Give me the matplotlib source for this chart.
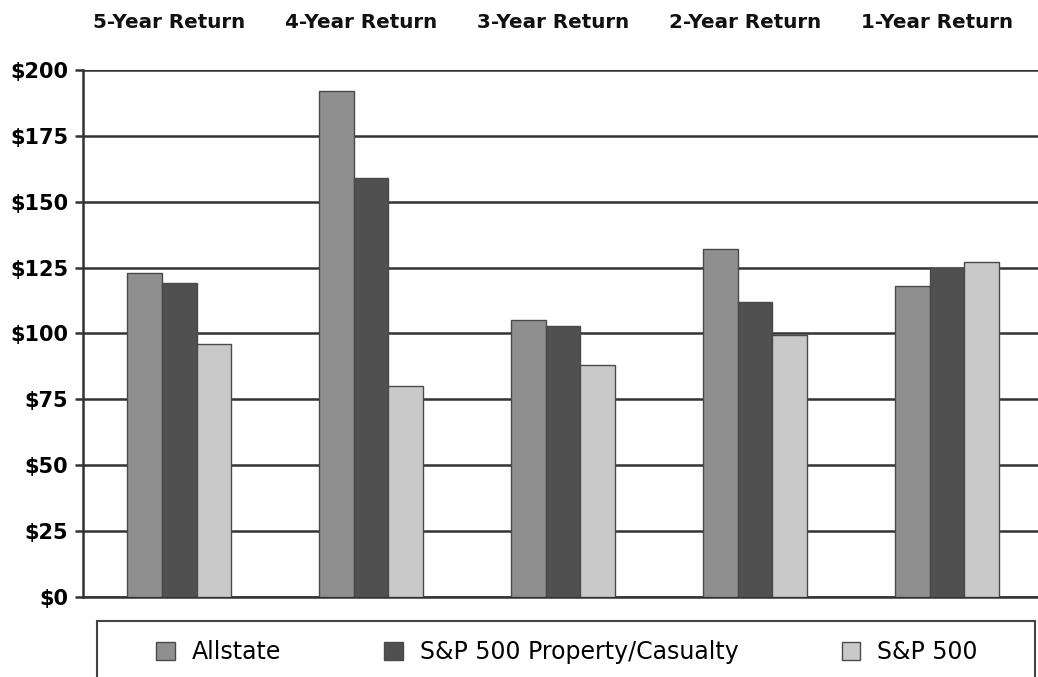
import matplotlib.pyplot as plt
import matplotlib.patches as mpatches
import matplotlib.transforms as mtransforms
import numpy as np

# Values
periods = ["5-Year Return", "4-Year Return", "3-Year Return", "2-Year Return", "1-Year Return"]
allstate = [123, 192, 105, 132, 118]
property_casualty = [119, 159, 103, 112, 125]
sp500 = [96, 80, 88, 99.5, 127]
series_names = ["Allstate", "S&P 500 Property/Casualty", "S&P 500"]
y_ticks = [0, 25, 50, 75, 100, 125, 150, 175, 200]

colors = ["#8f8f8f", "#505050", "#c9c9c9"]
edge = "#4a4a4a"
grid_color = "#333333"

fig = plt.figure(figsize=(10.38, 6.77), dpi=100)
ax = fig.add_axes([0.080, 0.1182, 0.920, 0.7784])

x = np.arange(len(periods))
width = 0.182
handles = []
for i, (vals, name) in enumerate(zip([allstate, property_casualty, sp500], series_names)):
    bars = ax.bar(x + (i - 1) * width, vals, width, color=colors[i],
                  edgecolor=edge, linewidth=1.0, zorder=3, label=name)
    handles.append(bars)

ax.set_xlim(-0.5, 4.474)
ax.set_ylim(0, 200)
ax.set_yticks(y_ticks)
ax.set_yticklabels([f"${v}" for v in y_ticks], fontsize=15, fontweight="bold")
ax.set_xticks([])
ax.tick_params(axis="y", length=6, width=1.8, color=grid_color, pad=4.5)

ax.yaxis.grid(True, color=grid_color, linewidth=1.8, zorder=0)
ax.set_axisbelow(True)
for side in ["top", "right"]:
    ax.spines[side].set_visible(False)
ax.spines["left"].set_color(grid_color)
ax.spines["left"].set_linewidth(1.8)
ax.spines["bottom"].set_color(grid_color)
ax.spines["bottom"].set_linewidth(1.8)

# period labels across the top
trans = mtransforms.blended_transform_factory(ax.transData, ax.transAxes)
for i, label in enumerate(periods):
    ax.text(x[i] - 0.05, 1.091, label, transform=trans, ha="center", va="center",
            fontsize=14.3, fontweight="bold", color="#111111")

# legend box running off the bottom of the figure
box = mpatches.Rectangle((97 / 1038, -0.05), (1035 - 97) / 1038, 1 - 621 / 677 + 0.05,
                         transform=fig.transFigure, facecolor="white",
                         edgecolor="#444444", linewidth=1.5)
fig.patches.append(box)

fig.legend(handles=handles, loc="center left", bbox_to_anchor=(135 / 1038, 1 - 652 / 677),
           ncol=3, frameon=False, fontsize=17, handlelength=0.8, handleheight=0.8,
           handletextpad=0.72, columnspacing=4.35)

fig.savefig("out.png", dpi=100)
